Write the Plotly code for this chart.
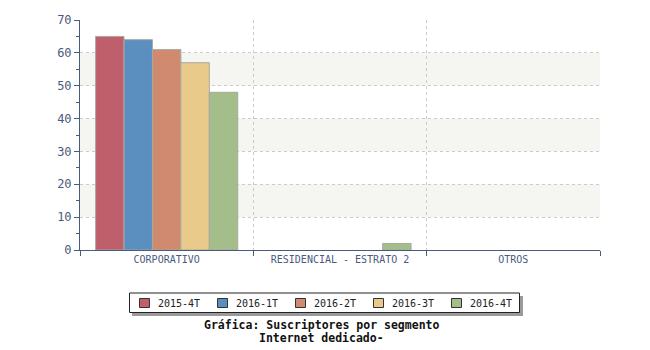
import plotly.graph_objects as go

categories = ["CORPORATIVO", "RESIDENCIAL - ESTRATO 2", "OTROS"]
series_names = ["2015-4T", "2016-1T", "2016-2T", "2016-3T", "2016-4T"]
v_2015_4T = [65, None, None]
v_2016_1T = [64, None, None]
v_2016_2T = [61, None, None]
v_2016_3T = [57, None, None]
v_2016_4T = [48, 2, None]
values = [v_2015_4T, v_2016_1T, v_2016_2T, v_2016_3T, v_2016_4T]
colors = ["#bf5f6b", "#5b8fbf", "#d08a6f", "#eaca8a", "#a4be8b"]
y_ticks = [0, 10, 20, 30, 40, 50, 60, 70]

axis_col = "#4a5a7e"
font_fam = "DejaVu Sans Mono"

# plot area in pixels: x 80..600, y 20..250
def px(x):
    return (x - 80) / 520

def py(y):
    return (250 - y) / 230

fig = go.Figure()
for name, vals, col in zip(series_names, values, colors):
    fig.add_trace(go.Bar(
        x=categories, y=vals, name=name, showlegend=False,
        marker=dict(color=col, line=dict(color="#a8a8a0", width=1)),
    ))

shapes = []
annotations = []
# alternating background bands
for lo in [10, 30, 50]:
    shapes.append(dict(type="rect", xref="paper", yref="y", x0=0, x1=1, y0=lo, y1=lo + 10,
                       fillcolor="#f5f5f1", line=dict(width=0), layer="below"))
# legend: shadow, box, swatches, labels
shapes.append(dict(type="rect", xref="paper", yref="paper",
                   x0=px(132), x1=px(523), y0=py(316), y1=py(296),
                   fillcolor="#9a9a9a", line=dict(width=0)))
shapes.append(dict(type="rect", xref="paper", yref="paper",
                   x0=px(129.5), x1=px(519.5), y0=py(312.5), y1=py(293),
                   fillcolor="white", line=dict(color="#222222", width=1)))
for i, (name, col) in enumerate(zip(series_names, colors)):
    sx = 139.5 + i * 78
    shapes.append(dict(type="rect", xref="paper", yref="paper",
                       x0=px(sx), x1=px(sx + 10), y0=py(307.5), y1=py(298.5),
                       fillcolor=col, line=dict(color="#333333", width=1)))
    annotations.append(dict(text=name, xref="paper", yref="paper",
                            x=px(sx + 16), y=py(303), xanchor="left", yanchor="middle",
                            showarrow=False,
                            font=dict(family=font_fam, size=10, color="#222222")))
annotations += [
    dict(text="<b>Gráfica: Suscriptores por segmento</b>", xref="paper", yref="paper",
         x=px(321), y=py(324.5), xanchor="center", yanchor="middle", showarrow=False,
         font=dict(family=font_fam, size=11.5, color="#111111")),
    dict(text="<b>Internet dedicado-</b>", xref="paper", yref="paper",
         x=px(321), y=py(337.5), xanchor="center", yanchor="middle", showarrow=False,
         font=dict(family=font_fam, size=11.5, color="#111111")),
]

fig.update_layout(
    width=650, height=350,
    margin=dict(l=80, r=50, t=20, b=100),
    paper_bgcolor="white", plot_bgcolor="white",
    barmode="group", bargap=0.18, bargroupgap=0,
    font=dict(family=font_fam, size=11, color=axis_col),
    showlegend=False,
    shapes=shapes,
    annotations=annotations,
)
fig.update_xaxes(
    type="category", tickson="boundaries", ticks="outside", ticklen=5,
    tickcolor=axis_col, showline=True, linecolor=axis_col, linewidth=1,
    showgrid=True, gridcolor="#cccccc", griddash="dot", gridwidth=1,
    tickfont=dict(family=font_fam, size=10, color=axis_col),
)
fig.update_yaxes(
    range=[0, 70], tickvals=y_ticks, ticks="outside", ticklen=5, tickcolor=axis_col,
    showline=True, linecolor=axis_col, linewidth=1,
    showgrid=True, gridcolor="#cccccc", griddash="dot", gridwidth=1,
    zeroline=False,
    minor=dict(tickvals=[5, 15, 25, 35, 45, 55, 65], ticks="outside", ticklen=3,
               tickcolor=axis_col, showgrid=False),
    tickfont=dict(family=font_fam, size=12, color=axis_col),
)
fig.write_html("out.html")
